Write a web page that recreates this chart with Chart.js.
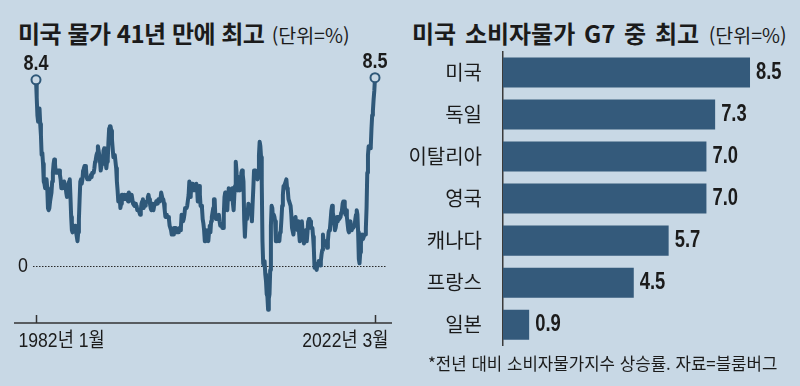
<!DOCTYPE html>
<html lang="ko">
<head>
<meta charset="utf-8">
<script src="https://cdn.jsdelivr.net/npm/chart.js@4.4.1/dist/chart.umd.min.js"></script>
<style>
  html, body { margin:0; padding:0; background:#c8d8e5; }
  #wrap { position:relative; width:800px; height:386px; background:#c8d8e5; overflow:hidden; }
  .title { position:absolute; top:20px; font-family:"Noto Sans CJK KR", sans-serif; font-weight:700; font-size:24px; line-height:26px; color:#1b1b1b; white-space:nowrap; }
  .title .unit { font-weight:400; font-size:19.5px; margin-left:1px; word-spacing:0; letter-spacing:0; }
  .note { position:absolute; left:428px; top:352px; font-family:"Noto Sans CJK KR", sans-serif; font-size:16.8px; line-height:22px; color:#1b1b1b; white-space:nowrap; }
  canvas { position:absolute; top:0; }
</style>
</head>
<body>
<div id="wrap">
  <div class="title" style="left:18px; letter-spacing:-0.5px;">미국 물가 41년 만에 최고 <span class="unit">(단위=%)</span></div>
  <div class="title" style="left:412px; word-spacing:2px;">미국 소비자물가 G7 중 최고 <span class="unit">(단위=%)</span></div>
  <canvas id="c1" width="400" height="386" style="left:0;"></canvas>
  <canvas id="c2" width="400" height="386" style="left:400px;"></canvas>
  <div class="note">*전년 대비 소비자물가지수 상승률. 자료=블룸버그</div>
</div>
<script>
// ---- Data ----
const startYear = 1982;
// US CPI, year-over-year %, monthly, 1982-01 .. 2022-03
const cpi = [
  8.4,7.6,6.8,6.5,6.7,7.1,6.4,5.9,5.0,5.1,4.6,3.8,   // 1982
  3.7,3.5,3.6,3.9,3.5,2.6,2.5,2.6,2.9,2.9,3.3,3.8,   // 1983
  4.2,4.6,4.8,4.6,4.2,4.2,4.2,4.3,4.3,4.3,4.1,3.9,   // 1984
  3.5,3.5,3.7,3.7,3.8,3.8,3.6,3.3,3.1,3.2,3.5,3.8,   // 1985
  3.9,3.1,2.2,1.6,1.5,1.8,1.6,1.6,1.8,1.5,1.3,1.1,   // 1986
  1.5,2.1,3.0,3.8,3.9,3.7,3.9,4.3,4.4,4.5,4.5,4.4,   // 1987
  4.0,3.9,3.9,3.9,3.9,4.0,4.1,4.0,4.2,4.2,4.2,4.4,   // 1988
  4.7,4.8,5.0,5.1,5.4,5.2,5.0,4.7,4.3,4.5,4.7,4.6,   // 1989
  5.2,5.3,5.2,4.7,4.4,4.7,4.8,5.6,6.2,6.3,6.3,6.1,   // 1990
  5.7,5.3,4.9,4.9,5.0,4.7,4.4,3.8,3.4,2.9,3.0,3.1,   // 1991
  2.6,2.8,3.2,3.2,3.0,3.1,3.2,3.1,3.0,3.2,3.0,2.9,   // 1992
  3.3,3.2,3.1,3.2,3.2,3.0,2.8,2.8,2.7,2.8,2.7,2.7,   // 1993
  2.5,2.5,2.5,2.4,2.3,2.5,2.8,2.9,3.0,2.6,2.7,2.7,   // 1994
  2.8,2.9,2.9,3.1,3.2,3.0,2.8,2.6,2.5,2.8,2.6,2.5,   // 1995
  2.7,2.7,2.8,2.9,2.9,2.8,3.0,2.9,3.0,3.0,3.3,3.3,   // 1996
  3.0,3.0,2.8,2.5,2.2,2.3,2.2,2.2,2.2,2.1,1.8,1.7,   // 1997
  1.6,1.4,1.4,1.4,1.7,1.7,1.7,1.6,1.5,1.5,1.5,1.6,   // 1998
  1.7,1.6,1.7,2.3,2.1,2.0,2.1,2.3,2.6,2.6,2.6,2.7,   // 1999
  2.7,3.2,3.8,3.1,3.2,3.7,3.7,3.4,3.5,3.4,3.4,3.4,   // 2000
  3.7,3.5,2.9,3.3,3.6,3.2,2.7,2.7,2.6,2.1,1.9,1.6,   // 2001
  1.1,1.1,1.5,1.6,1.2,1.1,1.5,1.8,1.5,2.0,2.2,2.4,   // 2002
  2.6,3.0,3.0,2.2,2.1,2.1,2.1,2.2,2.3,2.0,1.8,1.9,   // 2003
  1.9,1.7,1.7,2.3,3.1,3.3,3.0,2.7,2.5,3.2,3.5,3.3,   // 2004
  3.0,3.0,3.1,3.5,2.8,2.5,3.2,3.6,4.7,4.3,3.5,3.4,   // 2005
  4.0,3.6,3.4,3.5,4.2,4.3,4.1,3.8,2.1,1.3,2.0,2.5,   // 2006
  2.1,2.4,2.8,2.6,2.7,2.7,2.4,2.0,2.8,3.5,4.3,4.1,   // 2007
  4.3,4.0,4.0,3.9,4.2,5.0,5.6,5.4,4.9,3.7,1.1,0.1,   // 2008
  0.0,0.2,-0.4,-0.7,-1.3,-1.4,-2.0,-1.5,-1.3,-0.2,1.8,2.7, // 2009
  2.6,2.1,2.3,2.2,2.0,1.1,1.2,1.1,1.1,1.2,1.1,1.5,   // 2010
  1.6,2.1,2.7,3.2,3.6,3.6,3.6,3.8,3.9,3.5,3.4,3.0,   // 2011
  2.9,2.9,2.7,2.3,1.7,1.7,1.4,1.7,2.0,2.2,1.8,1.7,   // 2012
  1.6,2.0,1.5,1.1,1.4,1.8,2.0,1.5,1.2,1.0,1.2,1.5,   // 2013
  1.6,1.1,1.5,2.0,2.1,2.1,2.0,1.7,1.7,1.7,1.3,0.8,   // 2014
  -0.1,0.0,-0.1,-0.2,0.0,0.1,0.2,0.2,0.0,0.2,0.5,0.7, // 2015
  1.4,1.0,0.9,1.1,1.0,1.0,0.8,1.1,1.5,1.6,1.7,2.1,   // 2016
  2.5,2.7,2.4,2.2,1.9,1.6,1.7,1.9,2.2,2.0,2.2,2.1,   // 2017
  2.1,2.2,2.4,2.5,2.8,2.9,2.9,2.7,2.3,2.5,2.2,1.9,   // 2018
  1.6,1.5,1.9,2.0,1.8,1.6,1.8,1.7,1.7,1.8,2.1,2.3,   // 2019
  2.5,2.3,1.5,0.3,0.1,0.6,1.0,1.3,1.4,1.2,1.2,1.4,   // 2020
  1.4,1.7,2.6,4.2,5.0,5.4,5.4,5.3,5.4,6.2,6.8,7.0,   // 2021
  7.5,7.9,8.5                                        // 2022
];
const monthLabels = cpi.map((_, i) => (startYear + Math.floor(i / 12)) + '-' + String(i % 12 + 1).padStart(2, '0'));
const xTickLabels = ['1982년 1월', '2022년 3월'];
const zeroLabel = '0';

const countries = ['미국', '독일', '이탈리아', '영국', '캐나다', '프랑스', '일본'];
const g7cpi = [8.5, 7.3, 7.0, 7.0, 5.7, 4.5, 0.9];

// ---- Styles ----
const BG = '#c8d8e5';
const LINE = '#2f5879';
const BAR = '#345a7b';
const TEXT = '#1b1b1b';
const NUMF = '"Liberation Sans", "Noto Sans CJK KR", sans-serif';
const KR = '"Noto Sans CJK KR", sans-serif';

// draw horizontally condensed text (mimics the narrow typeface of the original)
function condensedText(ctx, text, x, y, sx, align) {
  ctx.save();
  ctx.translate(x, y);
  ctx.scale(sx, 1);
  ctx.textAlign = align;
  ctx.fillText(text, 0, 0);
  ctx.restore();
}

const leftDecor = {
  id: 'leftDecor',
  beforeDatasetsDraw(chart) {
    const { ctx, chartArea: a, scales: { x, y } } = chart;
    const y0 = Math.round(y.getPixelForValue(0)) + 0.5;
    ctx.save();
    ctx.strokeStyle = '#2a2a2a';
    ctx.lineWidth = 1;
    ctx.setLineDash([1.5, 1.5]);
    ctx.beginPath();
    ctx.moveTo(a.left - 3, y0);
    ctx.lineTo(a.right + 12, y0);
    ctx.stroke();
    ctx.setLineDash([]);
    ctx.fillStyle = TEXT;
    ctx.font = '21px ' + NUMF;
    ctx.textBaseline = 'middle';
    condensedText(ctx, zeroLabel, a.left - 8, y0, 0.85, 'right');
    ctx.strokeStyle = '#333';
    ctx.lineWidth = 1.5;
    ctx.beginPath();
    ctx.moveTo(14, a.bottom);
    ctx.lineTo(392, a.bottom);
    ctx.stroke();
    const idx = [0, cpi.length - 1];
    idx.forEach((i, k) => {
      const px = Math.round(x.getPixelForValue(i)) + 0.5;
      ctx.beginPath();
      ctx.moveTo(px, a.bottom - 8);
      ctx.lineTo(px, a.bottom);
      ctx.stroke();
      ctx.font = '20px ' + NUMF;
      ctx.textBaseline = 'middle';
      if (k === 0) condensedText(ctx, xTickLabels[0], px - 18, a.bottom + 18, 0.88, 'left');
      else condensedText(ctx, xTickLabels[1], px + 13, a.bottom + 18, 0.88, 'right');
    });
    ctx.restore();
  },
  afterDatasetsDraw(chart) {
    const { ctx } = chart;
    const pts = chart.getDatasetMeta(0).data;
    ctx.save();
    ctx.fillStyle = TEXT;
    ctx.font = 'bold 22px ' + NUMF;
    ctx.textBaseline = 'middle';
    [0, pts.length - 1].forEach(i => {
      const p = pts[i];
      condensedText(ctx, cpi[i].toFixed(1), p.x, p.y - 16, 0.82, 'center');
    });
    ctx.restore();
  }
};

new Chart(document.getElementById('c1'), {
  type: 'line',
  data: {
    labels: monthLabels,
    datasets: [{
      data: cpi,
      borderColor: LINE,
      borderWidth: 4,
      borderJoinStyle: 'round',
      borderCapStyle: 'round',
      tension: 0,
      clip: false,
      pointRadius: c => (c.dataIndex === 0 || c.dataIndex === cpi.length - 1) ? 4.5 : 0,
      pointBackgroundColor: BG,
      pointBorderColor: LINE,
      pointBorderWidth: 2
    }]
  },
  options: {
    responsive: false,
    animation: false,
    devicePixelRatio: 1,
    layout: { padding: { left: 36, right: 25, top: 71, bottom: 63 } },
    plugins: { legend: { display: false }, tooltip: { enabled: false } },
    scales: {
      x: { display: false },
      y: { display: false, min: -2.6, max: 8.8 }
    }
  },
  plugins: [leftDecor]
});

const barValues = {
  id: 'barValues',
  afterDatasetsDraw(chart) {
    const { ctx } = chart;
    const bars = chart.getDatasetMeta(0).data;
    ctx.save();
    ctx.fillStyle = TEXT;
    ctx.font = 'bold 23px ' + NUMF;
    ctx.textBaseline = 'middle';
    bars.forEach((b, i) => condensedText(ctx, g7cpi[i].toFixed(1), b.x + 6, b.y, 0.8, 'left'));
    ctx.restore();
  }
};

new Chart(document.getElementById('c2'), {
  type: 'bar',
  data: {
    labels: countries,
    datasets: [{
      data: g7cpi,
      backgroundColor: BAR,
      categoryPercentage: 1,
      barPercentage: 0.714
    }]
  },
  options: {
    indexAxis: 'y',
    responsive: false,
    animation: false,
    devicePixelRatio: 1,
    layout: { padding: { top: 51.5, bottom: 40.3, right: 6.4, left: 0 } },
    plugins: { legend: { display: false }, tooltip: { enabled: false } },
    scales: {
      x: { display: false, min: 0, max: 10 },
      y: {
        grid: { display: false },
        border: { display: true, color: '#3a3a3a', width: 1.5 },
        ticks: { color: TEXT, font: { family: KR, size: 20 }, padding: 13 },
        afterFit(s) { s.width = 103; }
      }
    }
  },
  plugins: [barValues]
});
</script>
</body>
</html>
